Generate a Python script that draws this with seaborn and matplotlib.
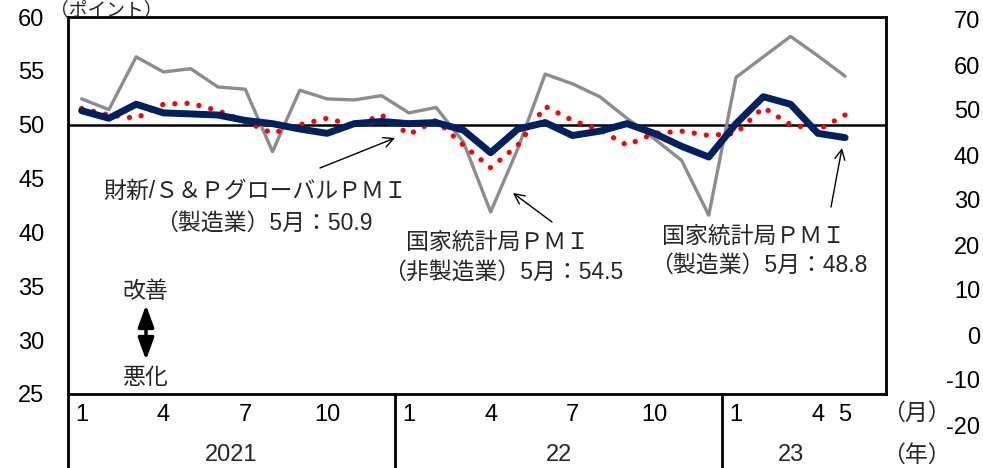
import numpy as np
import pandas as pd
import seaborn as sns
import matplotlib
matplotlib.use('Agg')
import matplotlib.pyplot as plt

# data: Jan 2021 .. May 2023
month_idx = list(range(29))
nbs_mfg = [51.3, 50.6, 51.9, 51.1, 51.0, 50.9, 50.4, 50.1, 49.6, 49.2, 50.1, 50.3,
           50.1, 50.2, 49.5, 47.4, 49.6, 50.2, 49.0, 49.4, 50.1, 49.2, 48.0, 47.0,
           50.1, 52.6, 51.9, 49.2, 48.8]
nbs_nonmfg = [52.4, 51.4, 56.3, 54.9, 55.2, 53.5, 53.3, 47.5, 53.2, 52.4, 52.3, 52.7,
              51.1, 51.6, 48.4, 41.9, 47.8, 54.7, 53.8, 52.6, 50.6, 48.7, 46.7, 41.6,
              54.4, 56.3, 58.2, 56.4, 54.5]
caixin = [51.5, 50.9, 50.6, 51.9, 52.0, 51.3, 50.3, 49.2, 50.0, 50.6, 49.9, 50.9,
          49.1, 50.4, 48.1, 46.0, 48.1, 51.7, 50.4, 49.5, 48.1, 49.2, 49.4, 49.0,
          49.2, 51.6, 50.0, 49.5, 50.9]
month_tick_pos = [0, 3, 6, 9, 12, 15, 18, 21, 24, 27, 28]
month_tick_lbl = ['1', '4', '7', '10', '1', '4', '7', '10', '1', '4', '5']
year_lbl = ['2021', '22', '23']
year_center = [5.5, 17.5, 26.0]
year_sep = [11.5, 23.5]

df = pd.DataFrame({'idx': month_idx, 'mfg': nbs_mfg, 'nonmfg': nbs_nonmfg, 'caixin': caixin})

sns.set_theme(style='white')
plt.rcParams['font.family'] = ['Liberation Sans', 'Noto Sans CJK JP']
plt.rcParams['axes.unicode_minus'] = False
FS = 17
FSJ = 16.5

W, H = 983, 468
fig = plt.figure(figsize=(W / 100, H / 100), dpi=100)
L, R, T, B = 68, 886, 17, 394
ax = fig.add_axes([L / W, 1 - B / H, (R - L) / W, (B - T) / H])

def fx(px):
    return px / W

def fy(py):
    return 1 - py / H

ax.axhline(50, color='black', lw=1.8, zorder=1)
sns.lineplot(data=df, x='idx', y='nonmfg', ax=ax, color='#8c8c8c', lw=2.4, zorder=2)
sns.lineplot(data=df, x='idx', y='caixin', ax=ax, color='#ff0000', lw=3.8,
             linestyle=(0, (0.01, 2.3)), dash_capstyle='round', zorder=3)
sns.lineplot(data=df, x='idx', y='mfg', ax=ax, color='#002060', lw=5, zorder=4)

ax.set_xlim(-0.5, 29.5)
ax.set_ylim(25, 60)
ax.set_yticks(range(25, 61, 5))
ax.set_xticks(month_tick_pos)
ax.set_xticklabels(month_tick_lbl)
ax.set_xlabel('')
ax.set_ylabel('')
ax.tick_params(axis='y', direction='in', length=4, width=1.5, pad=17, labelsize=FS, colors='black')
ax.tick_params(axis='x', length=0, pad=7, labelsize=FS, colors='black')
for s in ax.spines.values():
    s.set_color('black')
    s.set_linewidth(2)

# category frame under the axis
trans = ax.get_xaxis_transform()
ybot = -(H - B) / (B - T)
for xs in [-0.5] + year_sep:
    ax.plot([xs, xs], [0, ybot], transform=trans, color='black', lw=2, clip_on=False)
for xc, lab in zip(year_center, year_lbl):
    ax.text(xc, -(455 - B) / (B - T), lab, transform=trans, ha='center', va='center', fontsize=FS)

# right-hand scale
axr = fig.add_axes([980 / W, fy(425), 0.0001, (425 - 20) / H])
axr.set_ylim(-20, 70)
axr.set_yticks(range(-20, 71, 10))
axr.set_xticks([])
axr.tick_params(axis='y', length=0, pad=0, labelsize=FS, colors='black')
for s in axr.spines.values():
    s.set_visible(False)
axr.patch.set_alpha(0)

fig.text(fx(50), fy(10), '（ポイント）', fontsize=13.5, va='center', ha='left')
fig.text(fx(882), fy(413), '（月）', fontsize=FSJ, va='center', ha='left')
fig.text(fx(882), fy(455), '（年）', fontsize=FSJ, va='center', ha='left')

# series labels
fig.text(fx(255), fy(191), '財新/Ｓ＆ＰグローバルＰＭＩ', fontsize=FSJ, ha='center', va='center')
fig.text(fx(264), fy(223), '（製造業）5月：50.9', fontsize=FSJ, ha='center', va='center')
fig.text(fx(497), fy(242), '国家統計局ＰＭＩ', fontsize=FSJ, ha='center', va='center')
fig.text(fx(503), fy(272), '（非製造業）5月：54.5', fontsize=FSJ, ha='center', va='center')
fig.text(fx(754), fy(236), '国家統計局ＰＭＩ', fontsize=FSJ, ha='center', va='center')
fig.text(fx(759), fy(265), '（製造業）5月：48.8', fontsize=FSJ, ha='center', va='center')

arrow = dict(arrowstyle='->', color='black', lw=1, mutation_scale=18, shrinkA=0, shrinkB=0)
for tail, head in [((320, 168), (395, 138)), ((552, 222), (513, 193)), ((831, 207), (842, 148))]:
    ax.annotate('', xy=(fx(head[0]), fy(head[1])), xytext=(fx(tail[0]), fy(tail[1])),
                xycoords='figure fraction', textcoords='figure fraction', arrowprops=arrow)

# improve / worsen marker
fig.text(fx(145), fy(292), '改善', fontsize=FSJ, ha='center', va='center')
fig.text(fx(145), fy(377), '悪化', fontsize=FSJ, ha='center', va='center')
ax.annotate('', xy=(fx(146), fy(305)), xytext=(fx(146), fy(360)),
            xycoords='figure fraction', textcoords='figure fraction',
            arrowprops=dict(arrowstyle='<|-|>,head_length=1.1,head_width=0.4', color='black',
                            lw=2.5, shrinkA=0, shrinkB=0))

fig.savefig('out.png', dpi=100)
